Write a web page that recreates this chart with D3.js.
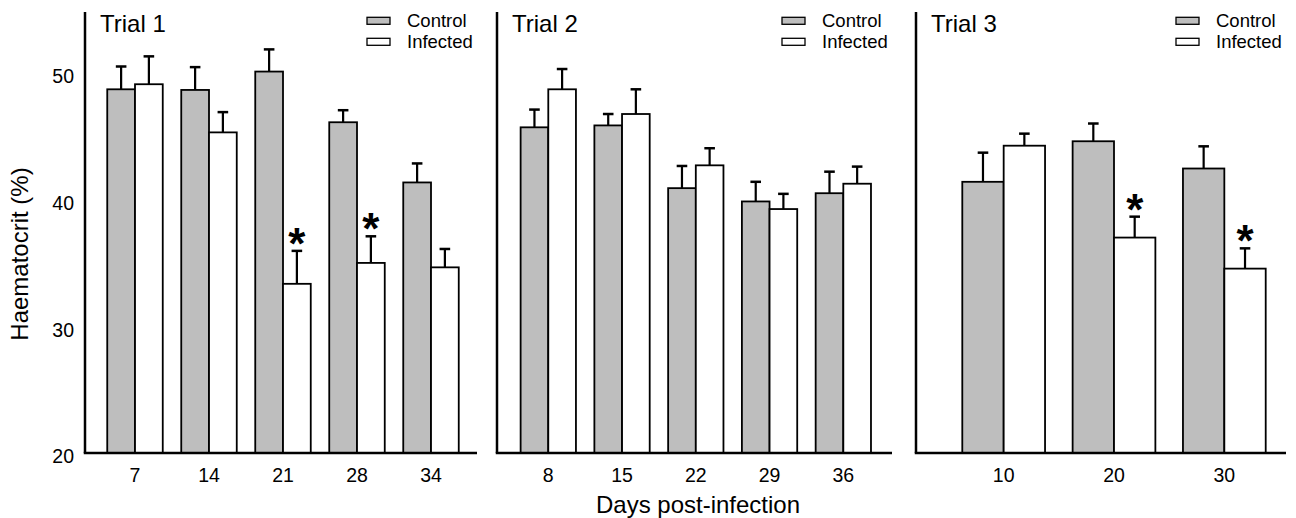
<!DOCTYPE html>
<html lang="en">
<head>
  <meta charset="UTF-8">
  <title>Haematocrit by trial</title>
  <script src="https://d3js.org/d3.v7.min.js"></script>
  <style>
    body { margin: 0; background: #fff; }
    text { font-family: "Liberation Sans", Arial, Helvetica, sans-serif; fill: #000; }
  </style>
</head>
<body>
  <div id="chart"></div>
  <script>
    // values (mean and upper error bar length)
    const trial1Days = [7, 14, 21, 28, 34];
    const trial1Control = [48.7, 48.65, 50.1, 46.1, 41.35];
    const trial1ControlErr = [1.8, 1.8, 1.75, 0.95, 1.5];
    const trial1Infected = [49.1, 45.3, 33.35, 35.0, 34.65];
    const trial1InfectedErr = [2.2, 1.6, 2.6, 2.1, 1.45];
    const trial1Signif = [false, false, true, true, false];

    const trial2Days = [8, 15, 22, 29, 36];
    const trial2Control = [45.7, 45.85, 40.9, 39.85, 40.5];
    const trial2ControlErr = [1.4, 0.9, 1.75, 1.55, 1.7];
    const trial2Infected = [48.7, 46.75, 42.7, 39.25, 41.25];
    const trial2InfectedErr = [1.6, 1.95, 1.35, 1.2, 1.35];
    const trial2Signif = [false, false, false, false, false];

    const trial3Days = [10, 20, 30];
    const trial3Control = [41.4, 44.6, 42.45];
    const trial3ControlErr = [2.3, 1.4, 1.75];
    const trial3Infected = [44.25, 37.0, 34.55];
    const trial3InfectedErr = [0.95, 1.65, 1.6];
    const trial3Signif = [false, true, true];

    const yTicks = [20, 30, 40, 50];
    const seriesNames = ["Control", "Infected"];
    const seriesFill = ["#bebebe", "#ffffff"];

    const width = 1296;
    const height = 518;
    const axis_bottom = 453;
    const axis_top = 12;

    const trials = [
      { title: "Trial 1", days: trial1Days, control: trial1Control, controlErr: trial1ControlErr,
        infected: trial1Infected, infectedErr: trial1InfectedErr, signif: trial1Signif },
      { title: "Trial 2", days: trial2Days, control: trial2Control, controlErr: trial2ControlErr,
        infected: trial2Infected, infectedErr: trial2InfectedErr, signif: trial2Signif },
      { title: "Trial 3", days: trial3Days, control: trial3Control, controlErr: trial3ControlErr,
        infected: trial3Infected, infectedErr: trial3InfectedErr, signif: trial3Signif }
    ];

    // panel layout: axis extent and where the bar groups sit
    const layout = [
      { axis: [85, 477], bands: [98, 468] },
      { axis: [497, 892], bands: [511.4, 880.2] },
      { axis: [916, 1286], bands: [948.5, 1279.5] }
    ];

    const svg = d3.select("#chart")
      .append("svg")
      .attr("width", width)
      .attr("height", height);

    const y = d3.scaleLinear()
      .domain([20, 54.8])
      .range([axis_bottom, axis_top]);

    trials.forEach((t, p) => {
      const lay = layout[p];
      const g = svg.append("g");

      const x0 = d3.scaleBand()
        .domain(t.days)
        .range(lay.bands)
        .paddingInner(0.25)
        .paddingOuter(0.125);
      const x1 = d3.scaleBand()
        .domain(seriesNames)
        .range([0, x0.bandwidth()]);

      const rows = [];
      t.days.forEach((d, i) => {
        rows.push({ day: d, s: 0, v: t.control[i], e: t.controlErr[i], star: false });
        rows.push({ day: d, s: 1, v: t.infected[i], e: t.infectedErr[i], star: t.signif[i] });
      });
      const cx = r => x0(r.day) + x1(seriesNames[r.s]) + x1.bandwidth() / 2;

      // error bars (upper only)
      g.selectAll(".err")
        .data(rows)
        .enter()
        .append("line")
        .attr("stroke", "#000")
        .attr("stroke-width", 2.2)
        .attr("x1", cx)
        .attr("x2", cx)
        .attr("y1", r => y(r.v))
        .attr("y2", r => y(r.v + r.e));
      g.selectAll(".cap")
        .data(rows)
        .enter()
        .append("line")
        .attr("stroke", "#000")
        .attr("stroke-width", 2.5)
        .attr("x1", r => cx(r) - 5.3)
        .attr("x2", r => cx(r) + 5.3)
        .attr("y1", r => y(r.v + r.e))
        .attr("y2", r => y(r.v + r.e));

      g.selectAll(".bar")
        .data(rows)
        .enter()
        .append("rect")
        .attr("fill", r => seriesFill[r.s])
        .attr("stroke", "#000")
        .attr("stroke-width", 1.8)
        .attr("x", r => x0(r.day) + x1(seriesNames[r.s]))
        .attr("width", x1.bandwidth())
        .attr("y", r => y(r.v))
        .attr("height", r => axis_bottom - y(r.v));

      const star_size = 44;
      g.selectAll(".star")
        .data(rows.filter(r => r.star))
        .enter()
        .append("text")
        .attr("text-anchor", "middle")
        .attr("font-weight", "bold")
        .attr("font-size", star_size)
        .attr("x", cx)
        .attr("y", r => y(r.v + r.e) - 17 + 0.57 * star_size)
        .text("*");

      // axis lines
      g.append("line")
        .attr("stroke", "#000")
        .attr("stroke-width", 2.5)
        .attr("x1", lay.axis[0])
        .attr("x2", lay.axis[0])
        .attr("y1", axis_top)
        .attr("y2", axis_bottom);
      g.append("line")
        .attr("stroke", "#000")
        .attr("stroke-width", 2.5)
        .attr("x1", lay.axis[0] - 1.25)
        .attr("x2", lay.axis[1])
        .attr("y1", axis_bottom)
        .attr("y2", axis_bottom);

      const xAxis = g.append("g")
        .attr("transform", "translate(0," + axis_bottom + ")")
        .call(d3.axisBottom(x0).tickSize(0).tickPadding(15));
      xAxis.select(".domain").remove();
      xAxis.selectAll("text")
        .attr("font-size", 19.5)
        .attr("font-family", null);

      if (p === 0) {
        const yAxis = g.append("g")
          .attr("transform", "translate(" + lay.axis[0] + ",0)")
          .call(d3.axisLeft(y).tickValues(yTicks).tickSize(0).tickPadding(11));
        yAxis.select(".domain").remove();
        yAxis.selectAll("text")
          .attr("font-size", 19.5)
          .attr("font-family", null)
          .attr("dy", "0.5em");
      }

      g.append("text")
        .attr("x", lay.axis[0] + 15)
        .attr("y", 31.5)
        .attr("font-size", 24)
        .text(t.title);

      // legend
      const legend = g.append("g")
        .attr("transform", "translate(" + (lay.axis[1] - 110) + ",0)");
      seriesNames.forEach((name, i) => {
        legend.append("rect")
          .attr("x", 0)
          .attr("y", 17.3 + i * 21)
          .attr("width", 23)
          .attr("height", 7)
          .attr("fill", seriesFill[i])
          .attr("stroke", "#000")
          .attr("stroke-width", 1.3);
        legend.append("text")
          .attr("x", 40)
          .attr("y", 21 + i * 21)
          .attr("dy", "0.35em")
          .attr("font-size", 18.5)
          .text(name);
      });
    });

    svg.append("text")
      .attr("transform", "translate(28,254) rotate(-90)")
      .attr("text-anchor", "middle")
      .attr("font-size", 24)
      .text("Haematocrit (%)");

    svg.append("text")
      .attr("x", 698)
      .attr("y", 513)
      .attr("text-anchor", "middle")
      .attr("font-size", 24)
      .text("Days post-infection");
  </script>
</body>
</html>
